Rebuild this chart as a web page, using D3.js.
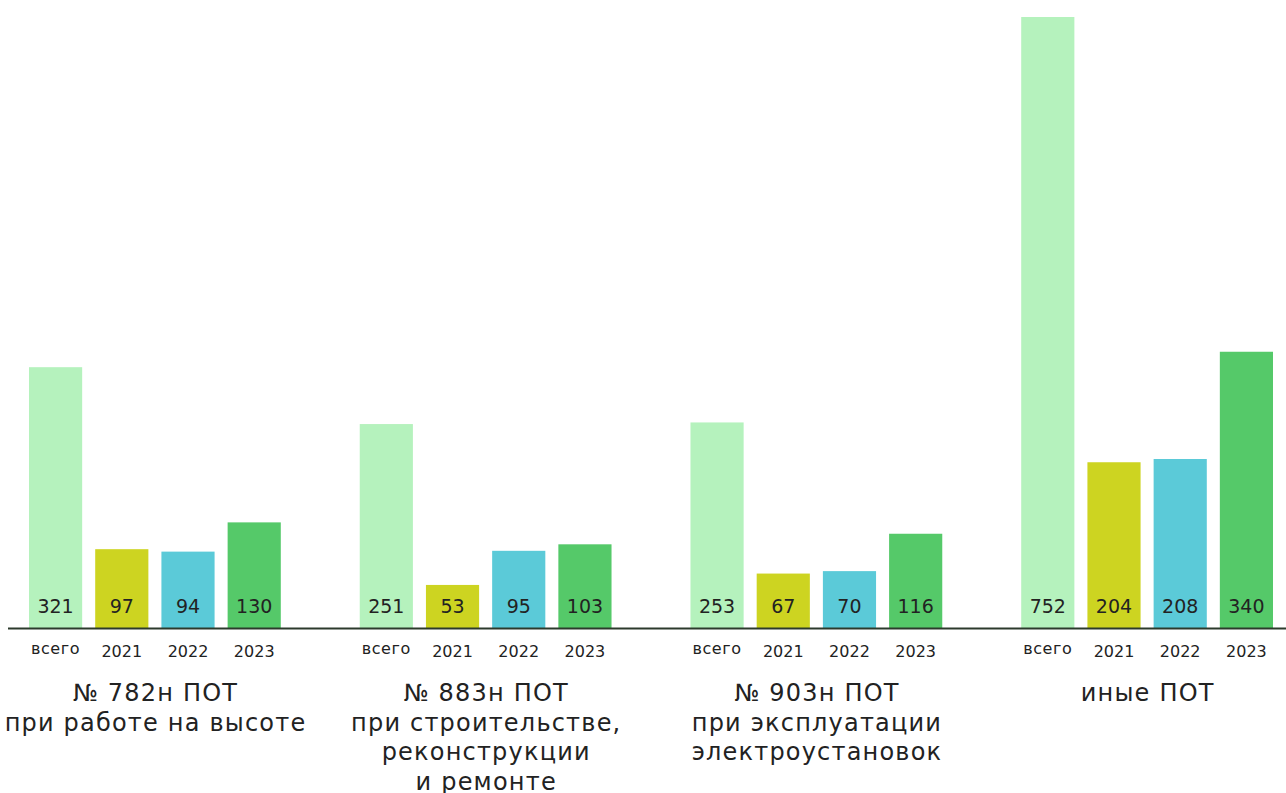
<!DOCTYPE html>
<html>
<head>
<meta charset="utf-8">
<script src="https://cdn.jsdelivr.net/npm/d3@7"></script>
<style>
  body { margin: 0; background: #fff; }
  text { font-family: "DejaVu Sans", "Noto Sans", sans-serif; fill: #222; }
</style>
</head>
<body>
<div id="chart"></div>
<script>
// categories and values
const groups = ["782", "883", "903", "other"];
const groupLabels = [
    ["№ 782н ПОТ", "при работе на высоте"],
    ["№ 883н ПОТ", "при строительстве,", "реконструкции", "и ремонте"],
    ["№ 903н ПОТ", "при эксплуатации", "электроустановок"],
    ["иные ПОТ"]
];
const series = ["всего", "2021", "2022", "2023"];
const totalValues = [321, 251, 253, 752];
const values2021 = [97, 53, 67, 204];
const values2022 = [94, 95, 70, 208];
const values2023 = [130, 103, 116, 340];
const colors = ["#b5f2bd", "#cdd421", "#5bcad8", "#55c969"];

const width = 1286;
const height = 793;
const margin = {top: 17, left: 29, right: 13, bottom: 165};

const svg = d3.select("#chart")
    .append("svg")
    .attr("width", width)
    .attr("height", height);

const data = groups.map(function(g, i){
    return {
        group: g,
        labels: groupLabels[i],
        vals: [totalValues[i], values2021[i], values2022[i], values2023[i]]
    };
});

/*
SCALES
*/
const x0 = d3.scaleBand()
    .domain(groups)
    .range([margin.left, width - margin.right])
    .paddingInner(0.2387)
    .paddingOuter(0);

const x1 = d3.scaleBand()
    .domain(series)
    .range([0, x0.bandwidth()])
    .paddingInner(0.197)
    .paddingOuter(0);

const yScale = d3.scaleLinear()
    .domain([0, 752])
    .range([height - margin.bottom, margin.top]);

const colorScale = d3.scaleOrdinal().domain(series).range(colors);

/*
BARS
*/
const g = svg.selectAll(".group")
    .data(data)
    .enter()
    .append("g")
    .attr("class", "group")
    .attr("transform", function(d){ return `translate(${x0(d.group)},0)`; });

const cells = g.selectAll(".cell")
    .data(function(d){ return d.vals.map(function(v, j){ return {s: series[j], v: v}; }); })
    .enter();

cells.append("rect")
    .attr("x", function(d){ return x1(d.s); })
    .attr("y", function(d){ return yScale(d.v); })
    .attr("width", x1.bandwidth())
    .attr("height", function(d){ return yScale(0) - yScale(d.v); })
    .attr("fill", function(d){ return colorScale(d.s); });

cells.append("text")
    .attr("x", function(d){ return x1(d.s) + x1.bandwidth()/2; })
    .attr("y", yScale(0) - 15)
    .attr("text-anchor", "middle")
    .style("font-size", "19px")
    .text(function(d){ return d.v; });

// category labels under bars
cells.append("text")
    .attr("x", function(d){ return x1(d.s) + x1.bandwidth()/2; })
    .attr("y", function(d){ return d.s == "всего" ? yScale(0) + 26 : yScale(0) + 29; })
    .attr("text-anchor", "middle")
    .style("font-size", "16px")
    .style("letter-spacing", function(d){ return d.s == "всего" ? "0.6px" : "0px"; })
    .text(function(d){ return d.s; });

/*
AXIS LINE
*/
svg.append("line")
    .attr("x1", 8)
    .attr("x2", width)
    .attr("y1", yScale(0) + 0.5)
    .attr("y2", yScale(0) + 0.5)
    .attr("stroke", "#2c3a2c")
    .attr("stroke-width", 1.8);

/*
GROUP LABELS
*/
g.append("text")
    .attr("text-anchor", "middle")
    .style("font-size", "24px")
    .style("letter-spacing", "1.2px")
    .selectAll("tspan")
    .data(function(d){ return d.labels; })
    .enter()
    .append("tspan")
    .attr("x", x0.bandwidth()/2 + 0.6)
    .attr("y", function(d, i){ return yScale(0) + 73 + i*29.5; })
    .text(function(d){ return d; });
</script>
</body>
</html>
